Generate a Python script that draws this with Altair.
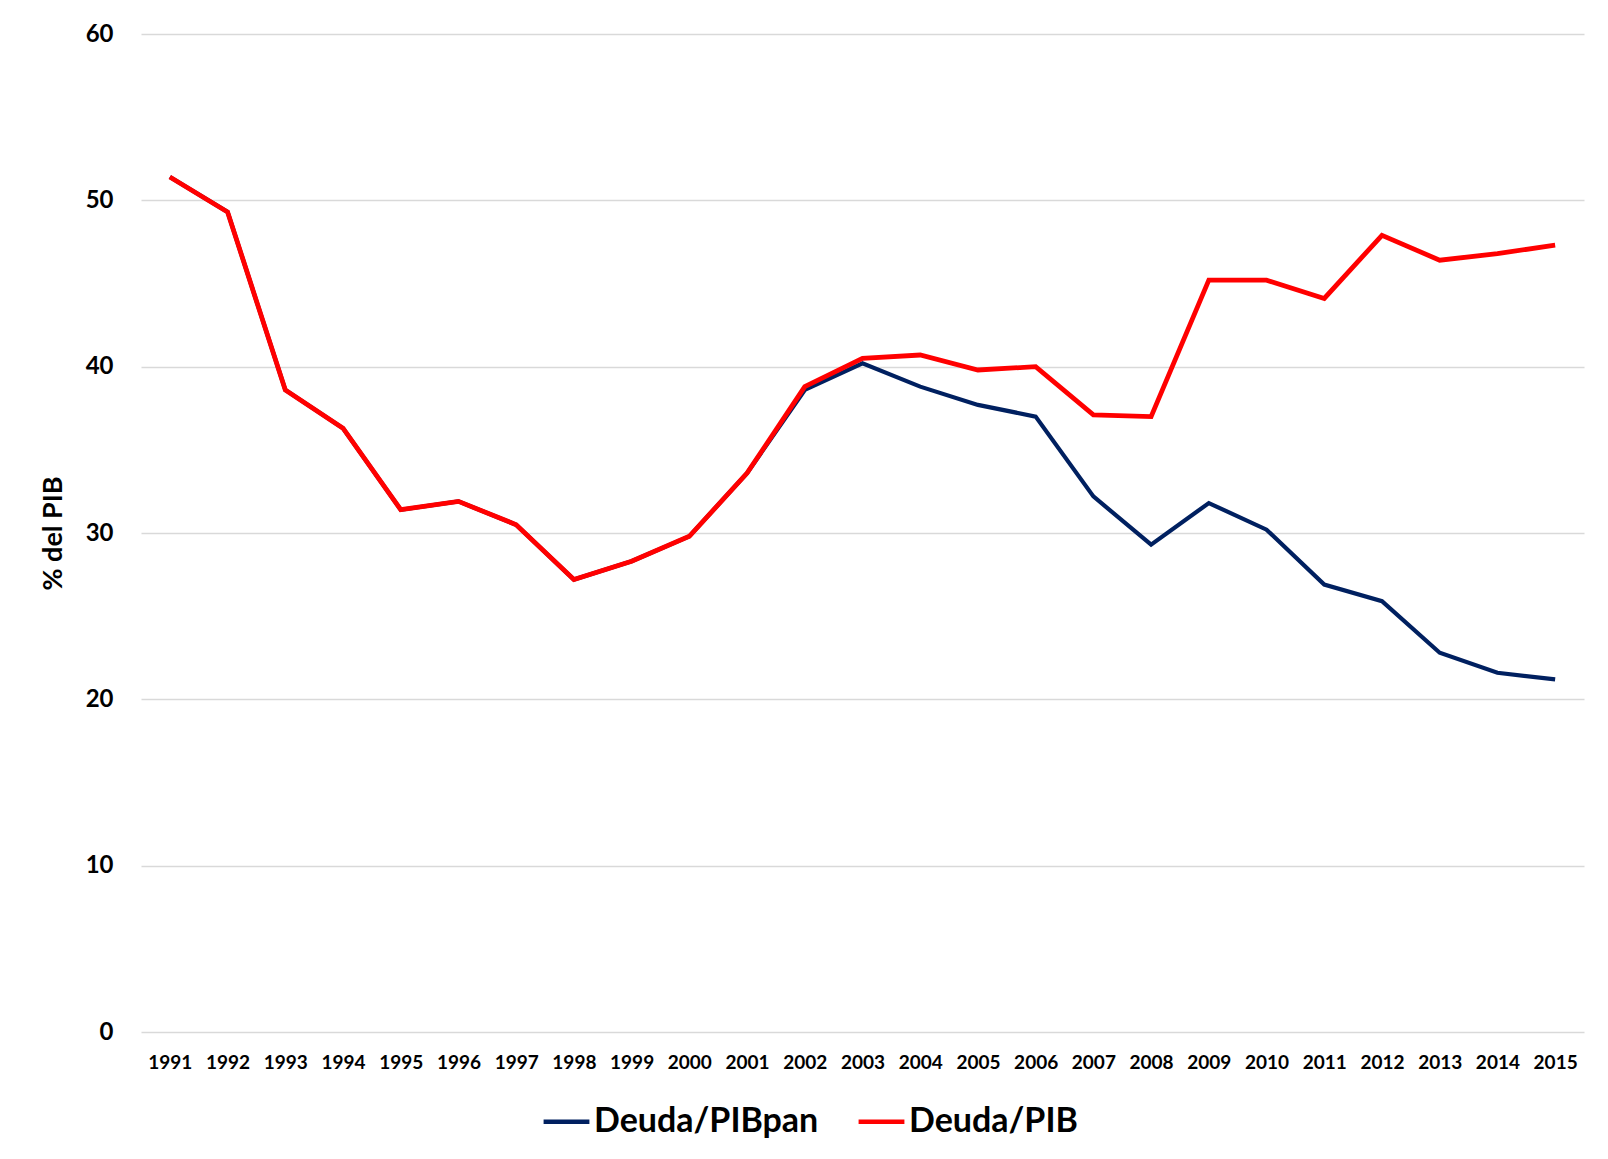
import altair as alt
import pandas as pd

years = [str(y) for y in range(1991, 2016)]
deuda_pib = [51.4, 49.3, 38.6, 36.3, 31.4, 31.9, 30.5, 27.2, 28.3, 29.8, 33.6, 38.8,
             40.5, 40.7, 39.8, 40.0, 37.1, 37.0, 45.2, 45.2, 44.1, 47.9, 46.4, 46.8, 47.3]
deuda_pibpan = [51.4, 49.3, 38.6, 36.3, 31.4, 31.9, 30.5, 27.2, 28.3, 29.8, 33.6, 38.6,
                40.2, 38.8, 37.7, 37.0, 32.2, 29.3, 31.8, 30.2, 26.9, 25.9, 22.8, 21.6, 21.2]
series_names = ["Deuda/PIBpan", "Deuda/PIB"]
series_colors = ["#002060", "#FF0000"]

df = pd.concat([
    pd.DataFrame({"Año": years, "valor": deuda_pibpan, "serie": series_names[0]}),
    pd.DataFrame({"Año": years, "valor": deuda_pib, "serie": series_names[1]}),
])

FONT = "Lato"

x = alt.X("Año:O", title=None,
          scale=alt.Scale(type="point", padding=0.5),
          axis=alt.Axis(labelAngle=0, labelFontSize=19, labelFontWeight="bold",
                        labelColor="#000000", labelFont=FONT, ticks=False, domain=False,
                        labelPadding=21, grid=False))
y = alt.Y("valor:Q", title="% del PIB",
          scale=alt.Scale(domain=[0, 60], nice=False),
          axis=alt.Axis(values=[0, 10, 20, 30, 40, 50, 60], labelFontSize=24,
                        labelFontWeight="bold", labelColor="#000000", labelFont=FONT,
                        ticks=False, domain=False, labelPadding=28,
                        gridColor="#D9D9D9", gridWidth=1.3,
                        titleFontSize=27, titleFontWeight="bold", titleFont=FONT,
                        titleColor="#000000", titlePadding=18))
color = alt.Color("serie:N",
                  scale=alt.Scale(domain=series_names, range=series_colors),
                  sort=series_names,
                  legend=alt.Legend(title=None, orient="none", direction="horizontal",
                                    legendX=400, legendY=1062,
                                    symbolType="stroke", symbolSize=2100,
                                    symbolStrokeWidth=4.5, labelFontSize=34,
                                    labelFont=FONT, labelFontWeight="bold",
                                    labelColor="#000000", columnPadding=30,
                                    labelOffset=2, labelLimit=400))

blue = alt.Chart(df[df["serie"] == series_names[0]]).mark_line(strokeWidth=4.2).encode(
    x=x, y=y, color=color)
red = alt.Chart(df[df["serie"] == series_names[1]]).mark_line(strokeWidth=4.8).encode(
    x=x, y=y, color=color)

chart = alt.layer(blue, red).properties(
    width=1443, height=998,
    autosize=alt.AutoSizeParams(type="none"),
    padding={"left": 133, "top": 26, "right": 16, "bottom": 119},
    background="white",
).configure_view(stroke=None)

chart.save("out.html", embed_options={"renderer": "svg", "actions": False})
